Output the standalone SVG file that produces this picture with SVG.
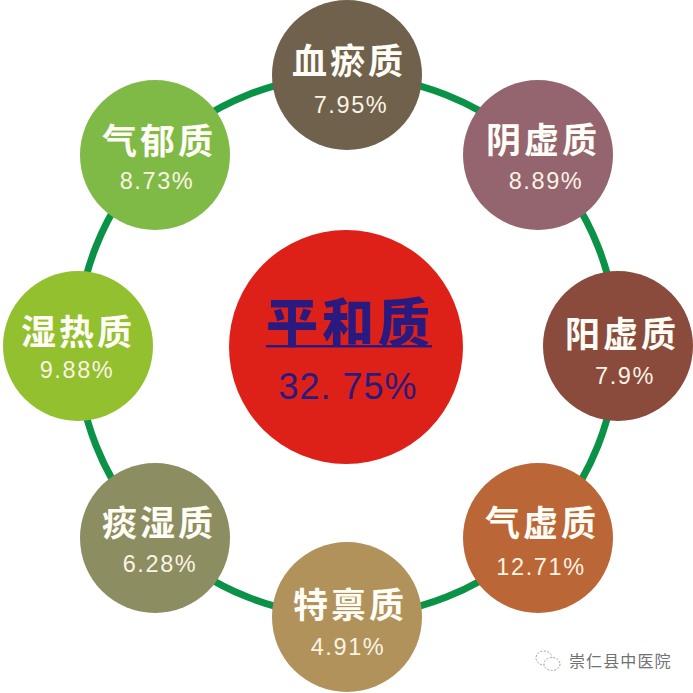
<svg xmlns="http://www.w3.org/2000/svg" width="693" height="693" viewBox="0 0 693 693">
<style>
.n{font-family:"Noto Sans CJK SC","Liberation Sans",sans-serif;font-weight:700;font-size:35px;fill:#fffdf5;text-anchor:middle;letter-spacing:3px}
.p{font-family:"Liberation Sans",sans-serif;font-size:23.5px;fill:#fbf3e4;text-anchor:middle;letter-spacing:1.6px}
.c{font-family:"Noto Sans CJK SC","Liberation Sans",sans-serif;font-weight:900;font-size:52px;fill:#2a1a80;text-anchor:middle;letter-spacing:4px}
.d{font-family:"Liberation Sans",sans-serif;font-size:36px;fill:#2a1a80;text-anchor:middle;letter-spacing:1px}
.w{font-family:"Noto Sans CJK SC","Liberation Sans",sans-serif;font-size:16px;fill:#6f7172;letter-spacing:1.1px}
</style>
<rect width="693" height="693" fill="#fff"/>
<g id="connectors"><circle cx="347" cy="346" r="270" fill="none" stroke="#0a9347" stroke-width="7"/></g>
<g id="center"><circle cx="346" cy="347" r="117" fill="#dd2118"/><text class="c" x="350" y="342">平和质</text><rect x="266" y="345" width="166" height="2.5" fill="#2a1a80"/><text class="d" x="348" y="399">32. 75%</text></g>
<g id="xueyu"><circle cx="347" cy="75" r="75" fill="#70614c"/><text class="n" x="349" y="74">血瘀质</text><text class="p" x="351" y="113">7.95%</text></g>
<g id="yinxu"><circle cx="538" cy="155" r="75" fill="#94656f"/><text class="n" x="543" y="153">阴虚质</text><text class="p" x="546" y="189">8.89%</text></g>
<g id="yangxu"><circle cx="618" cy="346" r="75" fill="#8a4a3c"/><text class="n" x="622" y="347">阳虚质</text><text class="p" x="625" y="384">7.9%</text></g>
<g id="qixu"><circle cx="538" cy="538" r="75" fill="#bb6636"/><text class="n" x="542" y="536">气虚质</text><text class="p" x="541" y="575">12.71%</text></g>
<g id="tebing"><circle cx="347" cy="617" r="75" fill="#b0925a"/><text class="n" x="350" y="618">特禀质</text><text class="p" x="348" y="655">4.91%</text></g>
<g id="tanshi"><circle cx="155" cy="538" r="75" fill="#8c8d60"/><text class="n" x="159" y="536">痰湿质</text><text class="p" x="160" y="572">6.28%</text></g>
<g id="shire"><circle cx="78" cy="346" r="75" fill="#93c02e"/><text class="n" x="78" y="345">湿热质</text><text class="p" x="77" y="378">9.88%</text></g>
<g id="qiyu"><circle cx="155" cy="155" r="75" fill="#80ba46"/><text class="n" x="159" y="154">气郁质</text><text class="p" x="157" y="189">8.73%</text></g>
<g id="watermark"><g fill="#fff" stroke="#a0a0a0" stroke-width="1" stroke-dasharray="2 1.5"><ellipse cx="544" cy="658" rx="8" ry="7"/><ellipse cx="552" cy="664" rx="8" ry="6.5"/></g><text class="w" x="569" y="667">崇仁县中医院</text></g>
</svg>
